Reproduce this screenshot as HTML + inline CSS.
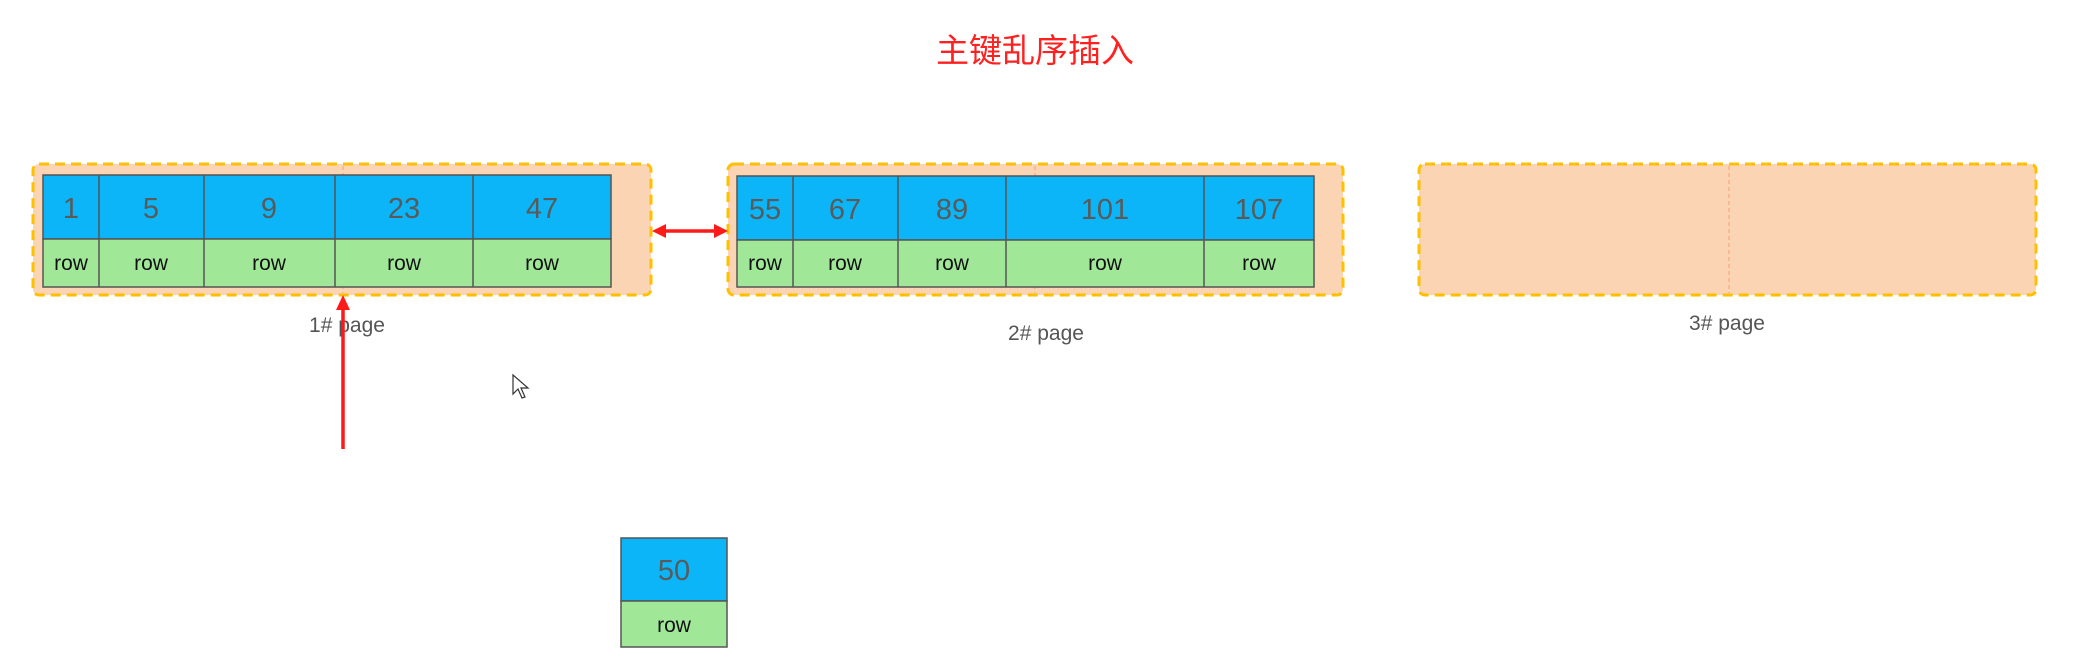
<!DOCTYPE html>
<html><head><meta charset="utf-8"><style>
html,body{margin:0;padding:0;background:#fff;}
svg{display:block;}
.n{font-family:"Liberation Sans","DejaVu Sans",sans-serif;font-size:29px;fill:#5a5a5a;text-anchor:middle;}
.r{font-family:"Liberation Sans","DejaVu Sans",sans-serif;font-size:21px;fill:#111;text-anchor:middle;}
.l{font-family:"Liberation Sans","DejaVu Sans",sans-serif;font-size:21px;fill:#555;text-anchor:middle;}
</style></head><body>
<svg width="2095" height="671" viewBox="0 0 2095 671" xmlns="http://www.w3.org/2000/svg">
<defs>
<marker id="ah" markerWidth="10" markerHeight="10" refX="8" refY="5" orient="auto" markerUnits="userSpaceOnUse"><path d="M0,0 L10,5 L0,10 Z" fill="#ff1a1a"/></marker>
</defs>
<text x="1035" y="62" font-family="'Liberation Sans','Noto Sans CJK SC',sans-serif" font-size="33" fill="#ff2020" text-anchor="middle">主键乱序插入</text>

<!-- page 1 -->
<rect x="33" y="164" width="618" height="131" rx="6" fill="#fbd4b4" stroke="#ffc000" stroke-width="3" stroke-dasharray="10,6"/>
<line x1="343" y1="166" x2="343" y2="293" stroke="#f4a070" stroke-width="1" stroke-dasharray="4,3"/>
<g stroke="#555" stroke-width="1.5">
<rect x="43" y="175" width="568" height="64" fill="#0bb5f7"/>
<rect x="43" y="239" width="568" height="48" fill="#a0e898"/>
<line x1="99" y1="175" x2="99" y2="287"/><line x1="204" y1="175" x2="204" y2="287"/><line x1="335" y1="175" x2="335" y2="287"/><line x1="473" y1="175" x2="473" y2="287"/>
</g>
<text class="n" x="71" y="218">1</text><text class="n" x="151" y="218">5</text><text class="n" x="269" y="218">9</text><text class="n" x="404" y="218">23</text><text class="n" x="542" y="218">47</text>
<text class="r" x="71" y="270">row</text><text class="r" x="151" y="270">row</text><text class="r" x="269" y="270">row</text><text class="r" x="404" y="270">row</text><text class="r" x="542" y="270">row</text>
<text class="l" x="347" y="332">1#  page</text>

<!-- page 2 -->
<rect x="728" y="164" width="615" height="131" rx="6" fill="#fbd4b4" stroke="#ffc000" stroke-width="3" stroke-dasharray="10,6"/>
<line x1="1035" y1="166" x2="1035" y2="293" stroke="#f4a070" stroke-width="1" stroke-dasharray="4,3"/>
<g stroke="#555" stroke-width="1.5">
<rect x="737" y="176" width="577" height="64" fill="#0bb5f7"/>
<rect x="737" y="240" width="577" height="47" fill="#a0e898"/>
<line x1="793" y1="176" x2="793" y2="287"/><line x1="898" y1="176" x2="898" y2="287"/><line x1="1006" y1="176" x2="1006" y2="287"/><line x1="1204" y1="176" x2="1204" y2="287"/>
</g>
<text class="n" x="765" y="219">55</text><text class="n" x="845" y="219">67</text><text class="n" x="952" y="219">89</text><text class="n" x="1105" y="219">101</text><text class="n" x="1259" y="219">107</text>
<text class="r" x="765" y="270">row</text><text class="r" x="845" y="270">row</text><text class="r" x="952" y="270">row</text><text class="r" x="1105" y="270">row</text><text class="r" x="1259" y="270">row</text>
<text class="l" x="1046" y="340">2#  page</text>

<!-- page 3 -->
<rect x="1419" y="164" width="617" height="131" rx="6" fill="#fbd4b4" stroke="#ffc000" stroke-width="3" stroke-dasharray="10,6"/>
<line x1="1729" y1="166" x2="1729" y2="293" stroke="#f4a070" stroke-width="1" stroke-dasharray="4,3"/>
<text class="l" x="1727" y="330">3#  page</text>

<!-- arrows -->
<line x1="662" y1="231" x2="718" y2="231" stroke="#ff1a1a" stroke-width="3.5"/>
<path d="M652,231 L666,224 L666,238 Z" fill="#ff1a1a"/>
<path d="M728,231 L714,224 L714,238 Z" fill="#ff1a1a"/>
<line x1="343" y1="449" x2="343" y2="306" stroke="#ff1a1a" stroke-width="3.5"/>
<path d="M343,295 L336,310 L350,310 Z" fill="#ff1a1a"/>

<!-- cursor -->
<path d="M513,375 L513,394 L518,389 L522,398 L525,397 L521,388 L528,388 Z" fill="#fff" stroke="#333" stroke-width="1.2"/>

<!-- 50 box -->
<g stroke="#555" stroke-width="1.5">
<rect x="621" y="538" width="106" height="63" fill="#0bb5f7"/>
<rect x="621" y="601" width="106" height="46" fill="#a0e898"/>
</g>
<text class="n" x="674" y="580">50</text>
<text class="r" x="674" y="632">row</text>
</svg>
</body></html>
